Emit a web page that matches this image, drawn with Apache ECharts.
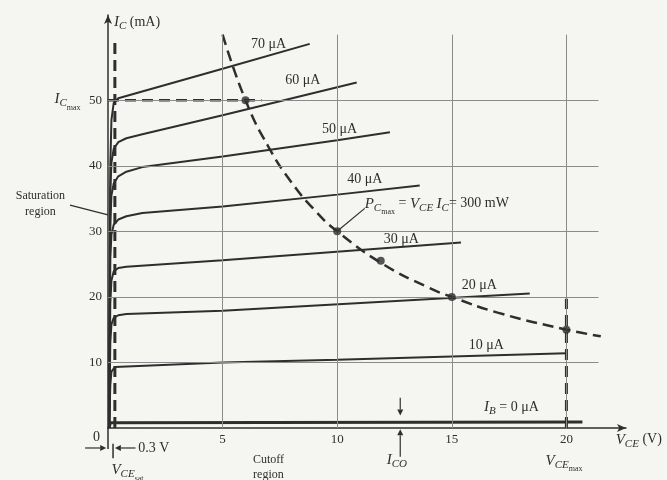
<!DOCTYPE html>
<html>
<head>
<meta charset="utf-8">
<title>Transistor output characteristics</title>
<script src="https://cdn.jsdelivr.net/npm/echarts/dist/echarts.min.js"></script>
<style>
html, body { margin: 0; padding: 0; background: #f5f5f2; }
#main { width: 667px; height: 480px; }
</style>
</head>
<body>
<div id="main"></div>
<script>
// [V_CE (V), I_C (mA)], one array per base current
const ib0  = [[0.05, 0], [0.1, 0.8], [20.7, 0.9]];
const ib10 = [[0.05, 0], [0.1, 6.5], [0.15, 8.6], [0.3, 9.3], [5, 10.0], [10, 10.4], [20, 11.4]];
const ib20 = [[0.05, 0], [0.1, 13], [0.15, 15.8], [0.25, 16.8], [0.45, 17.2], [0.8, 17.4], [5, 17.9], [18.4, 20.5]];
const ib30 = [[0.05, 0], [0.1, 19], [0.15, 22.5], [0.25, 23.9], [0.45, 24.4], [0.8, 24.6], [5, 25.6], [15.4, 28.3]];
const ib40 = [[0.05, 0], [0.1, 26], [0.15, 29.5], [0.25, 31.0], [0.45, 31.8], [0.8, 32.3], [1.5, 32.8], [5, 33.8], [10, 35.6], [13.6, 37.0]];
const ib50 = [[0.05, 0], [0.1, 31], [0.15, 35.5], [0.25, 37.3], [0.45, 38.4], [0.8, 39.1], [1.5, 39.8], [5, 41.4], [10, 43.9], [12.3, 45.1]];
const ib60 = [[0.05, 0], [0.1, 36], [0.15, 40.5], [0.25, 42.6], [0.45, 43.6], [0.8, 44.2], [1.5, 44.8], [5, 47.7], [10.85, 52.7]];
const ib70 = [[0.05, 0], [0.1, 40], [0.15, 47], [0.25, 49.6], [0.45, 50.3], [5, 54.8], [8.8, 58.6]];

// max power hyperbola (300 mW) and the marked points on it
const pcMax = [[5, 60], [6, 50], [7, 42.9], [8, 37.5], [9, 33.3], [10, 30], [12, 25], [14, 21.4], [15, 20], [17, 17.6], [20, 15], [21.5, 14]];
const pcDots = [[6, 50], [10, 30], [11.9, 25.5], [15, 20], [20, 15]];

// limit lines
const icMaxLine = [[0, 50], [6.7, 50]];
const vceSatLine = [[0.3, 0], [0.3, 58.8]];
const vceMaxLine = [[20, 0], [20, 19.7]];

const xTicks = [5, 10, 15, 20];
const yTicks = [10, 20, 30, 40, 50];
const gridRight = 21.4;
const gridTop = 60;

const ink = '#2e2e2e';
const serif = 'Liberation Serif';

const rich = {
  n: { fontFamily: serif, fontSize: 14, fill: ink, color: ink },
  i: { fontFamily: serif, fontSize: 15, fontStyle: 'italic', fill: ink, color: ink },
  s: { fontFamily: serif, fontSize: 11, fontStyle: 'italic', fill: ink, color: ink, padding: [8, 0, 0, 0] },
  m: { fontFamily: serif, fontSize: 8, fill: ink, color: ink, padding: [17, 0, 0, 0] }
};

function curve(name, data, width) {
  return {
    name: name, type: 'line', data: data, showSymbol: false,
    lineStyle: { color: ink, width: width || 2 }, z: 3, silent: true
  };
}

function dashed(data, width) {
  return {
    type: 'line', data: data, showSymbol: false, clip: false,
    lineStyle: { color: ink, width: width, type: [11, 6] }, z: 4, silent: true
  };
}

function arrow(a, b) {
  const dx = b[0] - a[0], dy = b[1] - a[1];
  const len = Math.hypot(dx, dy), ux = dx / len, uy = dy / len;
  const base = [b[0] - ux * 6, b[1] - uy * 6];
  return [
    { type: 'polyline', shape: { points: [a, base] }, style: { stroke: ink, lineWidth: 1.2 } },
    { type: 'polygon', shape: { points: [b, [base[0] + uy * 3, base[1] - ux * 3], [base[0] - uy * 3, base[1] + ux * 3]] }, style: { fill: ink } }
  ];
}

function initChart() {
  const chart = echarts.init(document.getElementById('main'));

  const gridLines = [];
  yTicks.forEach(v => gridLines.push([{ coord: [0, v] }, { coord: [gridRight, v] }]));
  xTicks.forEach(v => gridLines.push([{ coord: [v, 0] }, { coord: [v, gridTop] }]));

  chart.setOption({
    backgroundColor: '#f5f5f2',
    animation: false,
    grid: { left: 108, right: 41, top: 15, bottom: 52 },
    xAxis: {
      type: 'value', min: 0, max: 22.6, interval: 5,
      axisLine: { lineStyle: { color: ink, width: 1.5 }, symbol: ['none', 'arrow'], symbolSize: [6, 9] },
      axisTick: { show: false },
      splitLine: { show: false },
      axisLabel: {
        color: ink, fontFamily: serif, fontSize: 13, margin: 5,
        formatter: v => (xTicks.indexOf(v) >= 0 ? String(v) : '')
      }
    },
    yAxis: {
      type: 'value', min: 0, max: 63, interval: 10,
      axisLine: { lineStyle: { color: ink, width: 1.5 }, symbol: ['none', 'arrow'], symbolSize: [6, 9] },
      axisTick: { show: false },
      splitLine: { show: false },
      axisLabel: {
        color: ink, fontFamily: serif, fontSize: 13, margin: 6,
        formatter: v => (yTicks.indexOf(v) >= 0 ? String(v) : '')
      }
    },
    series: [
      {
        type: 'line', data: [], silent: true, z: 1,
        markLine: {
          silent: true, symbol: 'none', label: { show: false },
          lineStyle: { color: '#8a8a8a', width: 1, type: 'solid' },
          data: gridLines
        }
      },
      curve('0', ib0, 3),
      curve('10', ib10),
      curve('20', ib20),
      curve('30', ib30),
      curve('40', ib40),
      curve('50', ib50),
      curve('60', ib60),
      curve('70', ib70),
      Object.assign(dashed(pcMax, 2.5), { smooth: true }),
      dashed(icMaxLine, 2.5),
      dashed(vceSatLine, 3),
      dashed(vceMaxLine, 3),
      {
        type: 'scatter', data: pcDots, symbolSize: 8, silent: true, z: 5,
        itemStyle: { color: ink }
      }
    ]
  });

  const px = p => chart.convertToPixel({ gridIndex: 0 }, p);
  const notes = [];
  const text = (str, at, align, extra) => notes.push(Object.assign({
    type: 'text', x: px(at)[0], y: px(at)[1], z: 10,
    style: Object.assign({ text: str, rich: rich, align: align || 'center', verticalAlign: 'middle', fontFamily: serif, fontSize: 13, fill: ink }, extra || {})
  }));
  const seg = (a, b, w) => notes.push({ type: 'polyline', z: 10, shape: { points: [px(a), px(b)] }, style: { stroke: ink, lineWidth: w || 1.2 } });

  // base current labels
  text('{n|70 μA}', [7.0, 58.5]);
  text('{n|60 μA}', [8.5, 53.0]);
  text('{n|50 μA}', [10.1, 45.6]);
  text('{n|40 μA}', [11.2, 37.9]);
  text('{n|30 μA}', [12.8, 28.8]);
  text('{n|20 μA}', [16.2, 21.7]);
  text('{n|10 μA}', [16.5, 12.6]);
  text('{i|I}{s|B}{n| = 0 μA}', [17.6, 3.2]);

  // power limit note
  text('{i|P}{s|C}{m|max}{n| = }{i|V}{s|CE}{n| }{i|I}{s|C}{n|= 300 mW}', [11.2, 34.2], 'left');
  seg([10, 30], [11.2, 33.5]);

  // axis titles and side notes
  text('{i|I}{s|C}{n| (mA)}', [0.26, 61.9], 'left');
  text('{i|V}{s|CE}{n| (V)}', [22.15, -1.8], 'left');
  text('{i|I}{s|C}{m|max}', [-1.2, 50.2], 'right');
  text('{n|0}', [-0.5, -1.4]);
  text('Saturation\nregion', [-2.95, 34.2], 'center', { lineHeight: 16, fontSize: 12 });
  seg([-1.66, 34.0], [0, 32.5]);
  text('Cutoff\nregion', [7.0, -6.0], 'center', { lineHeight: 15, fontSize: 12 });
  text('{i|I}{s|CO}', [12.6, -4.9]);
  text('{i|V}{s|CE}{m|max}', [19.9, -5.0]);
  text('{i|V}{s|CE}{m|sat}', [0.85, -6.4]);
  text('{n|0.3 V}', [1.32, -3.05], 'left');

  // small arrows under the axis
  seg([0, 0], [0, -3.2], 1.5);
  seg([0.22, -2.4], [0.22, -4.6], 1.5);
  notes.push.apply(notes, arrow(px([-1.0, -3.05]), px([-0.08, -3.05])));
  notes.push.apply(notes, arrow(px([1.2, -3.05]), px([0.3, -3.05])));
  notes.push.apply(notes, arrow(px([12.75, 4.6]), px([12.75, 1.9])));
  notes.push.apply(notes, arrow(px([12.75, -4.4]), px([12.75, -0.2])));

  chart.setOption({ graphic: notes });
}

initChart();
</script>
</body>
</html>
